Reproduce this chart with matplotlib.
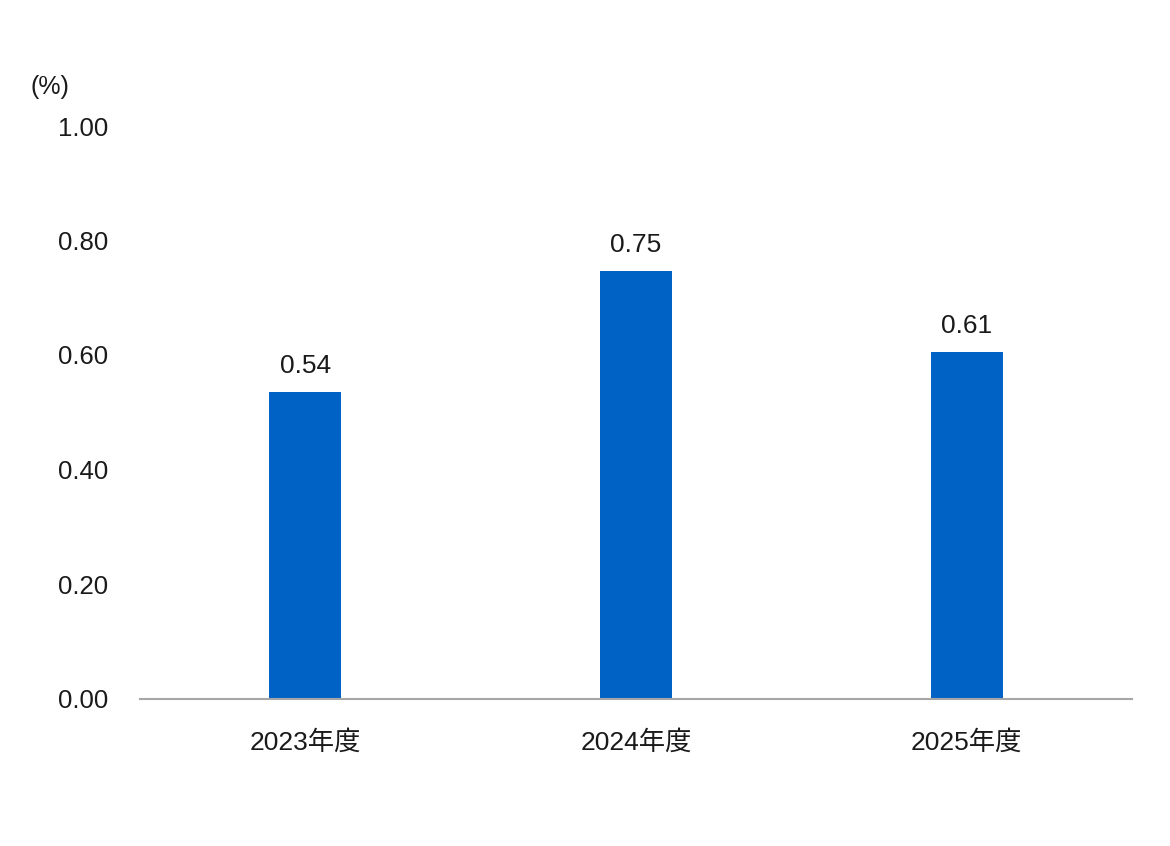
import matplotlib
matplotlib.use("Agg")
import matplotlib.pyplot as plt

plt.rcParams['font.family'] = ['Liberation Sans', 'Noto Sans CJK JP', 'DejaVu Sans']

categories = ['2023年度', '2024年度', '2025年度']
values = [0.536, 0.747, 0.606]
value_labels = ['0.54', '0.75', '0.61']
yticks = [0.0, 0.2, 0.4, 0.6, 0.8, 1.0]
ytick_labels = ['0.00', '0.20', '0.40', '0.60', '0.80', '1.00']

fig = plt.figure(figsize=(11.70, 8.46), dpi=100)
ax = fig.add_axes([140 / 1170, 1 - 698.5 / 846, 992 / 1170, (698.5 - 126) / 846])

x = range(len(categories))
bars = ax.bar(x, values, width=0.218, color='#0062C4', zorder=2)

for b, lab in zip(bars, value_labels):
    ax.annotate(lab, (b.get_x() + b.get_width() / 2, b.get_height()),
                xytext=(0, 10), textcoords='offset points',
                ha='center', va='bottom', fontsize=19, color='#1a1a1a')

ax.set_xlim(-0.5, 2.5)
ax.set_ylim(0, 1.0)
ax.set_xticks(list(x))
ax.set_xticklabels(categories, fontsize=19, color='#1a1a1a')
ax.set_yticks(yticks)
ax.set_yticklabels(ytick_labels, fontsize=18.5, color='#1a1a1a')
ax.tick_params(axis='x', length=0, pad=23)
ax.tick_params(axis='y', length=0, pad=23)

for s in ['top', 'right', 'left']:
    ax.spines[s].set_visible(False)
ax.spines['bottom'].set_color('#a6a6a6')
ax.spines['bottom'].set_linewidth(1.5)
ax.spines['bottom'].set_zorder(3)

fig.text(30 / 1170, 1 - 87 / 846, '(%)', fontsize=18, ha='left', va='center', color='#1a1a1a')

fig.savefig('out.png', dpi=100, facecolor='white')
